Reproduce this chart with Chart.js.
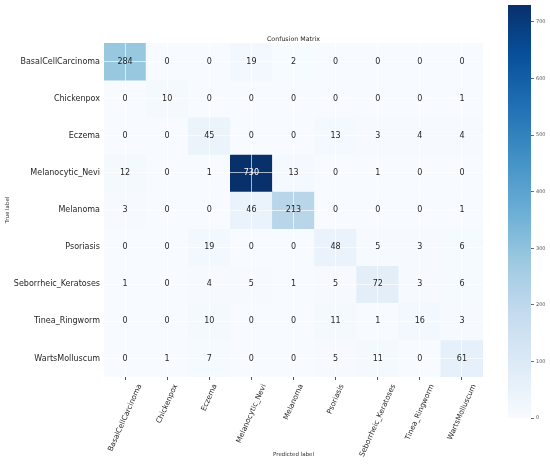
<!DOCTYPE html>
<html>
<head>
<meta charset="utf-8">
<title>Confusion Matrix</title>
<script src="https://cdn.jsdelivr.net/npm/chart.js@4.4.0/dist/chart.umd.min.js"></script>
<style>
  html, body { margin: 0; padding: 0; background: #fff; }
  #wrap { position: relative; width: 550px; height: 465px; }
  #matrixChart { position: absolute; left: 0; top: 0; }
  #colorBar { position: absolute; left: 495px; top: 0; }
</style>
</head>
<body>
<div id="wrap">
  <canvas id="matrixChart" width="495" height="465"></canvas>
  <canvas id="colorBar" width="55" height="465"></canvas>
</div>
<script>
// ─── DATI ─────────────────────────────────────────────────────────
const classes = [
  "BasalCellCarcinoma",
  "Chickenpox",
  "Eczema",
  "Melanocytic_Nevi",
  "Melanoma",
  "Psoriasis",
  "Seborrheic_Keratoses",
  "Tinea_Ringworm",
  "WartsMolluscum",
];

// one row per true label, columns = predicted label
const basalCellCarcinoma = [284, 0, 0, 19, 2, 0, 0, 0, 0];
const chickenpox = [0, 10, 0, 0, 0, 0, 0, 0, 1];
const eczema = [0, 0, 45, 0, 0, 13, 3, 4, 4];
const melanocyticNevi = [12, 0, 1, 730, 13, 0, 1, 0, 0];
const melanoma = [3, 0, 0, 46, 213, 0, 0, 0, 1];
const psoriasis = [0, 0, 19, 0, 0, 48, 5, 3, 6];
const seborrheicKeratoses = [1, 0, 4, 5, 1, 5, 72, 3, 6];
const tineaRingworm = [0, 0, 10, 0, 0, 11, 1, 16, 3];
const wartsMolluscum = [0, 1, 7, 0, 0, 5, 11, 0, 61];

const rows = [
  basalCellCarcinoma,
  chickenpox,
  eczema,
  melanocyticNevi,
  melanoma,
  psoriasis,
  seborrheicKeratoses,
  tineaRingworm,
  wartsMolluscum,
];

const vmin = 0;
const vmax = 730;
const colorbarTicks = [0, 100, 200, 300, 400, 500, 600, 700];

const FONT = "'DejaVu Sans', sans-serif";

// matplotlib "Blues"
const blues = [
  "#f7fbff", "#deebf7", "#c6dbef", "#9ecae1", "#6baed6",
  "#4292c6", "#2171b5", "#08519c", "#08306b",
];

function hexToRgb(h) {
  const n = parseInt(h.slice(1), 16);
  return [(n >> 16) & 255, (n >> 8) & 255, n & 255];
}

function bluesRgb(t) {
  const s = Math.min(Math.max(t, 0), 1) * (blues.length - 1);
  const i = Math.min(Math.floor(s), blues.length - 2);
  const f = s - i;
  const a = hexToRgb(blues[i]);
  const b = hexToRgb(blues[i + 1]);
  return a.map((c, k) => Math.round(c + (b[k] - c) * f));
}

function bluesColor(t) {
  const [r, g, b] = bluesRgb(t);
  return `rgb(${r},${g},${b})`;
}

// come seaborn: testo scuro su celle chiare, bianco su celle scure
function textColor(t) {
  const lin = bluesRgb(t).map((c) => {
    c /= 255;
    return c <= 0.03928 ? c / 12.92 : Math.pow((c + 0.055) / 1.055, 2.4);
  });
  const lum = 0.2126 * lin[0] + 0.7152 * lin[1] + 0.0722 * lin[2];
  return lum > 0.408 ? "#262626" : "#ffffff";
}

const norm = (v) => (v - vmin) / (vmax - vmin);

// ─── PLUGIN ───────────────────────────────────────────────────────
// numeri nelle celle, sopra la griglia bianca
const cellText = {
  id: "cellText",
  afterDraw(chart) {
    const { ctx, scales: { x, y } } = chart;
    ctx.save();
    ctx.font = `8px ${FONT}`;
    ctx.textAlign = "center";
    ctx.textBaseline = "middle";
    rows.forEach((row, r) => {
      row.forEach((v, c) => {
        ctx.fillStyle = textColor(norm(v));
        ctx.fillText(String(v), x.getPixelForValue(c), y.getPixelForValue(r));
      });
    });
    ctx.restore();
  },
};

// etichette x ruotate, centrate sul tick (come matplotlib rotation=70)
const xLabels = {
  id: "xLabels",
  afterDraw(chart) {
    const { ctx, chartArea, scales: { x } } = chart;
    const angle = (66 * Math.PI) / 180;
    const size = 7.3;
    ctx.save();
    ctx.font = `${size}px ${FONT}`;
    ctx.fillStyle = "#262626";
    ctx.textAlign = "center";
    ctx.textBaseline = "middle";
    classes.forEach((name, i) => {
      const w = ctx.measureText(name).width;
      const h = size * 1.15;
      const boxH = w * Math.sin(angle) + h * Math.cos(angle);
      const cx = x.getPixelForValue(i);
      const cy = chartArea.bottom + 6 + boxH / 2;
      ctx.save();
      ctx.translate(cx, cy);
      ctx.rotate(-angle);
      ctx.fillText(name, 0, 0);
      ctx.restore();
    });
    ctx.restore();
  },
};

// ─── MATRICE ──────────────────────────────────────────────────────
const datasets = rows.map((row, r) => ({
  label: classes[r],
  data: row.map(() => [r - 0.5, r + 0.5]),
  backgroundColor: row.map((v) => bluesColor(norm(v))),
  borderWidth: 0,
  barPercentage: 1,
  categoryPercentage: 1,
  grouped: false,
}));

new Chart(document.getElementById("matrixChart"), {
  type: "bar",
  data: { labels: classes, datasets },
  plugins: [cellText, xLabels],
  options: {
    responsive: false,
    animation: false,
    events: [],
    layout: { padding: { left: 0, right: 12, top: 0, bottom: 0 } },
    plugins: {
      legend: { display: false },
      tooltip: { enabled: false },
      title: {
        display: true,
        text: "Confusion Matrix",
        fullSize: false,
        color: "#262626",
        font: { family: FONT, size: 6.3, weight: "normal" },
        padding: { top: 35.5, bottom: 0 },
      },
    },
    scales: {
      x: {
        type: "category",
        offset: true,
        grid: {
          z: 1,
          offset: false,
          color: "rgba(255,255,255,0.65)",
          lineWidth: 1,
          tickColor: "#555",
          tickLength: 3,
          tickWidth: 1,
        },
        border: { display: false },
        ticks: { display: false },
        title: {
          display: true,
          text: "Predicted label",
          color: "#333",
          font: { family: FONT, size: 5.5 },
          padding: { top: 0, bottom: 7 },
        },
        afterFit(scale) {
          scale.height = 88;
        },
      },
      y: {
        min: -0.5,
        max: 8.5,
        reverse: true,
        afterBuildTicks(scale) {
          scale.ticks = classes.map((_, i) => ({ value: i }));
        },
        ticks: {
          autoSkip: false,
          callback: (v) => classes[v],
          color: "#262626",
          font: { family: FONT, size: 8 },
          padding: 4,
        },
        grid: {
          z: 1,
          color: "rgba(255,255,255,0.65)",
          lineWidth: 1,
          drawTicks: false,
        },
        border: { display: false },
        title: {
          display: true,
          text: "True label",
          color: "#333",
          font: { family: FONT, size: 5.5 },
          padding: { top: 4, bottom: 0 },
        },
        afterFit(scale) {
          scale.width = 104;
        },
      },
    },
  },
});

// ─── COLORBAR ─────────────────────────────────────────────────────
function barGradient(context) {
  const { chart } = context;
  const area = chart.chartArea;
  if (!area) return blues[0];
  const g = chart.ctx.createLinearGradient(0, area.bottom, 0, area.top);
  blues.forEach((col, i) => g.addColorStop(i / (blues.length - 1), col));
  return g;
}

new Chart(document.getElementById("colorBar"), {
  type: "bar",
  data: {
    labels: [""],
    datasets: [
      {
        data: [[vmin, vmax]],
        backgroundColor: barGradient,
        borderWidth: 0,
        barPercentage: 1,
        categoryPercentage: 1,
      },
    ],
  },
  options: {
    responsive: false,
    animation: false,
    events: [],
    layout: { padding: { left: 13, right: 0, top: 3, bottom: 47 } },
    plugins: {
      legend: { display: false },
      tooltip: { enabled: false },
    },
    scales: {
      x: { display: false },
      y: {
        position: "right",
        min: vmin,
        max: vmax,
        afterBuildTicks(scale) {
          scale.ticks = colorbarTicks.map((v) => ({ value: v }));
        },
        ticks: {
          color: "#555",
          font: { family: FONT, size: 5 },
          padding: 2,
        },
        grid: {
          drawOnChartArea: false,
          tickLength: 3,
          tickColor: "#444",
          tickWidth: 0.8,
        },
        border: { display: false },
        afterFit(scale) {
          scale.width = 19;
        },
      },
    },
  },
});
</script>
</body>
</html>
